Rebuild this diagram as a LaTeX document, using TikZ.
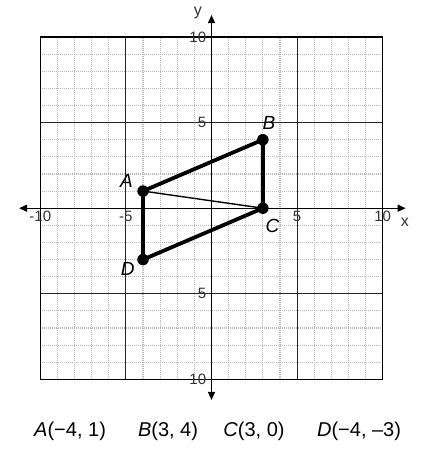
\documentclass[tikz,border=0pt]{standalone}
\usepackage{fontspec}
\setmainfont{Liberation Sans}
\usetikzlibrary{arrows.meta}
\tikzset{
  minorgrid/.style={black!28, line width=1.1pt, dash pattern=on 1pt off 1pt},
  majorgrid/.style={black!85, line width=1pt},
  axisline/.style={black, line width=1.3pt, -{Triangle[length=8pt,width=7pt]}},
  edge/.style={black, line width=3.8pt, line cap=round},
  thinedge/.style={black, line width=1.4pt},
  dot/.style={circle, fill=black, inner sep=0pt, minimum size=11.5pt},
  ptlabel/.style={font=\fontsize{19}{19}\selectfont\itshape, inner sep=0pt},
  ticklabel/.style={font=\fontsize{15}{15}\selectfont, inner sep=0pt, text=black!80},
  caption/.style={font=\fontsize{20}{20}\selectfont, inner sep=0pt, anchor=base}
}
\begin{document}
\begin{tikzpicture}[x=17.12pt,y=17.12pt]
\useasboundingbox (-12.354,-14.357) rectangle (13.113,12.161);
\fill[white] (-12.354,-14.357) rectangle (13.113,12.161);
% minor grid
\foreach \i in {-9,...,9}{
  \draw[minorgrid] (\i,-10) -- (\i,10);
  \draw[minorgrid] (-10,\i) -- (10,\i);
}
% major grid
\foreach \i in {-5,5}{
  \draw[majorgrid] (\i,-10) -- (\i,10);
  \draw[majorgrid] (-10,\i) -- (10,\i);
}
\draw[black, line width=1.2pt] (-10,-10) rectangle (10,10);
% axes
\coordinate (xl) at (-11.24,0);
\coordinate (xr) at (11.34,0);
\coordinate (yb) at (0,-11.2);
\coordinate (yt) at (0,11.28);
\coordinate (o) at (0,0);
\draw[axisline] (o) -- (xr);
\draw[axisline] (o) -- (xl);
\draw[axisline] (o) -- (yt);
\draw[axisline] (o) -- (yb);
\node[ticklabel, font=\fontsize{16}{16}\selectfont] (xlab) at (11.3,-0.8) {x};
\node[ticklabel, font=\fontsize{16}{16}\selectfont] (ylab) at (-0.8,11.4) {y};
% tick labels
\node[ticklabel, anchor=north] (tx1) at (-10,-0.18) {-10};
\node[ticklabel, anchor=north] (tx2) at (-5,-0.18) {-5};
\node[ticklabel, anchor=north] (tx3) at (5,-0.18) {5};
\node[ticklabel, anchor=north] (tx4) at (10,-0.18) {10};
\node[ticklabel, anchor=east] (ty1) at (-0.3,10) {10};
\node[ticklabel, anchor=east] (ty2) at (-0.3,5) {5};
\node[ticklabel, anchor=east] (ty3) at (-0.3,-5) {5};
\node[ticklabel, anchor=east] (ty4) at (-0.3,-10) {10};
% points
\coordinate (A) at (-4,1);
\coordinate (B) at (3,4);
\coordinate (C) at (3,0);
\coordinate (D) at (-4,-3);
\draw[thinedge] (A) -- (C);
\draw[edge] (A) -- (B) -- (C) -- (D) -- cycle;
\node[dot] (dA) at (A) {};
\node[dot] (dB) at (B) {};
\node[dot] (dC) at (C) {};
\node[dot] (dD) at (D) {};
\node[ptlabel] (lA) at (-4.97,1.59) {A};
\node[ptlabel] (lB) at (3.36,4.98) {B};
\node[ptlabel] (lC) at (3.56,-1.04) {C};
\node[ptlabel] (lD) at (-4.9,-3.53) {D};
% caption
\node[caption] (cA) at (-8.26,-13.33) {\textit{A}(−4, 1)};
\node[caption] (cB) at (-2.54,-13.33) {\textit{B}(3, 4)};
\node[caption] (cC) at (2.48,-13.33) {\textit{C}(3, 0)};
\node[caption] (cD) at (8.62,-13.33) {\textit{D}(−4, –3)};
\end{tikzpicture}
\end{document}
